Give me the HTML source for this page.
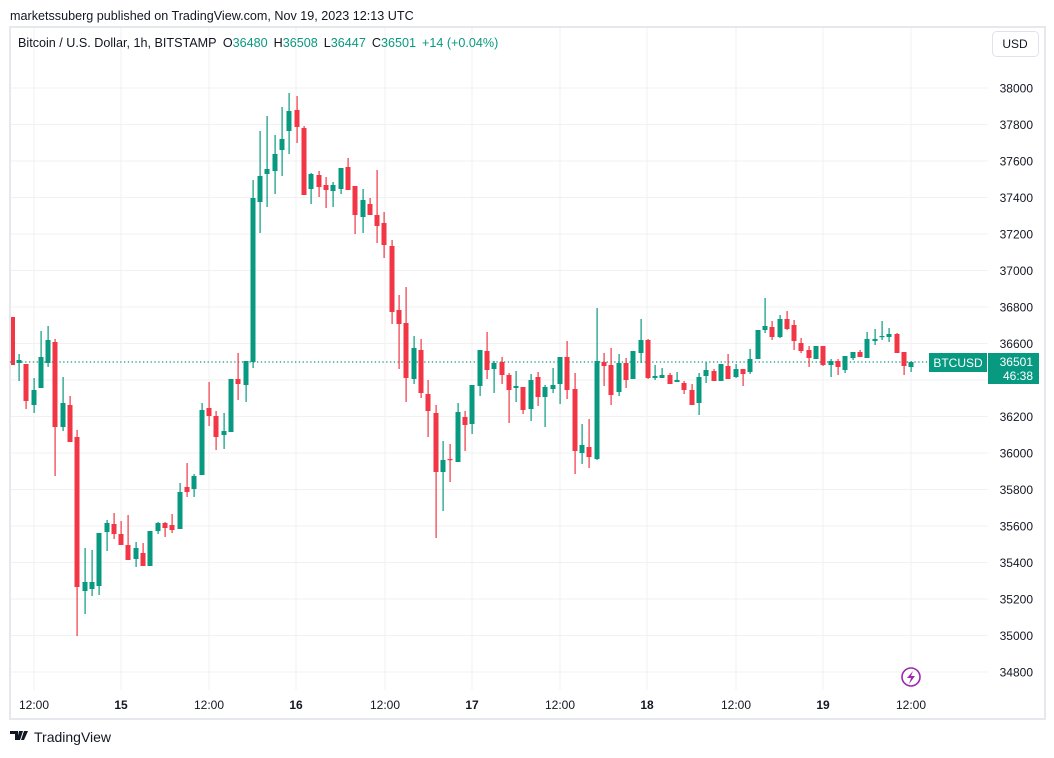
<!DOCTYPE html>
<html><head><meta charset="utf-8"><style>
html,body{margin:0;padding:0;background:#fff;}
body{width:1054px;height:753px;overflow:hidden;position:relative;font-family:"Liberation Sans",sans-serif;color:#131722;}
svg text{font-family:"Liberation Sans",sans-serif;}
</style></head><body>
<svg id="s" width="1054" height="753" viewBox="0 0 1054 753" xmlns="http://www.w3.org/2000/svg">
<rect x="0" y="0" width="1054" height="753" fill="#fff"/>
<text x="10" y="20" font-size="12.6" fill="#131722">marketssuberg published on TradingView.com, Nov 19, 2023 12:13 UTC</text>
<rect x="10" y="27" width="1035" height="692" fill="none" stroke="#e6e8ee" stroke-width="2"/>
<g id="grid" stroke="#f0f1f3" stroke-width="1"></g>
<text x="18" y="47" font-size="12.6" fill="#131722">Bitcoin / U.S. Dollar, 1h, BITSTAMP <tspan dx="3">O</tspan><tspan fill="#089981">36480</tspan><tspan dx="6">H</tspan><tspan fill="#089981">36508</tspan><tspan dx="6">L</tspan><tspan fill="#089981">36447</tspan><tspan dx="6">C</tspan><tspan fill="#089981">36501</tspan><tspan dx="6" fill="#089981">+14 (+0.04%)</tspan></text>
<rect x="992.5" y="31.5" width="46" height="25" rx="4" fill="#fff" stroke="#e0e3eb"/>
<text x="1015" y="48" font-size="12" text-anchor="middle" fill="#131722">USD</text>
<g id="plabels" font-size="12" fill="#131722" text-anchor="end"></g>
<g id="tlabels" font-size="12" fill="#131722" text-anchor="middle"></g>
<line x1="10" y1="362" x2="929" y2="362" stroke="#089981" stroke-width="1.3" stroke-dasharray="1.3,2.5"/>
<g id="candles"></g>
<rect x="929" y="353" width="58" height="19" fill="#089981"/>
<text x="958" y="367" font-size="12" fill="#fff" text-anchor="middle">BTCUSD</text>
<rect x="988" y="353" width="51" height="31" fill="#089981"/>
<text x="1033" y="366" font-size="12" fill="#fff" text-anchor="end">36501</text>
<text x="1033" y="380" font-size="12" fill="#fff" text-anchor="end">46:38</text>
<circle cx="911" cy="677" r="9" fill="#fff" stroke="#9c27b0" stroke-width="1.6"/>
<path d="M913 671 L907 678 L911 678 L909 684 L915 676 L911 676 Z" fill="#9c27b0"/>
<path d="M10 731 h8 v9 h-3 v-6 h-5z M19 731 h4 l-3 9 h-3z M24 731 h4 l-4 9 h-3z" fill="#131722"/>
<text x="34" y="742" font-size="14" fill="#131722">TradingView</text>
</svg>
<script>
var NS="http://www.w3.org/2000/svg";
function el(t,a,p,txt){var e=document.createElementNS(NS,t);for(var k in a)e.setAttribute(k,a[k]);if(txt)e.textContent=txt;document.getElementById(p).appendChild(e);return e;}
for(var i=0;i<=16;i++){var p=38000-200*i;var y=88+i*36.5;
 el('line',{x1:11,y1:y,x2:988,y2:y},'grid');
 if(p!==36400)el('text',{x:1033,y:y+4.5},'plabels',String(p));}
var tx=[34,121,209,296,385,472,560,647,736,823,911];
var tl=['12:00','15','12:00','16','12:00','17','12:00','18','12:00','19','12:00'];
for(var i=0;i<tx.length;i++){el('line',{x1:tx[i],y1:28,x2:tx[i],y2:690},'grid');
 var a={x:tx[i],y:709};if(tl[i].length<3)a['font-weight']='bold';el('text',a,'tlabels',tl[i]);}
var D=[[12,'r',317,365,317,365],[19,'g',360,363,354,381],[26,'r',364,401,364,409],[34,'g',390,405,378,413],[41,'g',357,388,331,388],[48,'g',340,363,326,367],[55,'r',342,427,339,476],[63,'g',403,427,377,431],[70,'r',405,442,396,442],[77,'r',437,587,430,636],[85,'g',582,591,548,614],[92,'g',582,589,550,596],[99,'g',533,586,533,595],[107,'g',523,532,520,551],[114,'r',524,534,513,539],[121,'r',534,545,521,545],[128,'r',545,560,515,560],[136,'g',548,559,542,567],[143,'r',553,566,543,566],[150,'g',531,566,531,566],[158,'g',523,531,522,534],[165,'r',523,528,522,537],[172,'r',525,530,514,533],[180,'g',492,529,483,529],[187,'r',487,492,463,497],[194,'g',476,489,474,497],[202,'g',410,475,403,475],[209,'r',408,416,382,426],[216,'r',416,437,411,450],[224,'g',431,435,413,449],[231,'g',379,432,379,432],[238,'r',379,384,353,400],[246,'g',361,385,361,402],[253,'g',198,362,180,368],[260,'g',176,202,131,233],[267,'g',169,174,116,207],[275,'g',154,171,135,194],[282,'g',139,150,107,176],[289,'g',111,131,93,154],[297,'r',110,127,96,143],[304,'r',128,195,126,195],[311,'g',174,189,173,204],[319,'r',175,187,171,197],[326,'r',185,190,177,208],[333,'g',185,191,182,207],[341,'g',168,189,168,194],[348,'r',167,190,158,190],[355,'r',186,215,186,234],[363,'g',200,217,189,233],[370,'r',204,215,198,215],[377,'r',215,226,170,243],[384,'r',223,245,212,258],[392,'r',246,312,240,324],[399,'r',310,324,295,369],[406,'r',323,378,287,402],[414,'g',348,379,336,384],[421,'r',350,393,339,398],[428,'r',394,411,380,437],[436,'r',413,472,405,538],[443,'g',460,472,441,511],[450,'r',459,460,444,482],[458,'g',412,462,403,462],[465,'r',417,425,411,451],[472,'g',385,424,385,434],[480,'g',350,386,350,396],[487,'r',351,370,332,379],[494,'g',363,369,361,393],[502,'r',362,375,357,384],[509,'r',375,390,373,423],[516,'g',386,388,371,402],[523,'r',387,410,387,414],[531,'g',380,409,374,421],[538,'r',377,397,372,406],[545,'g',387,397,385,427],[553,'g',385,389,368,393],[560,'g',357,384,357,404],[567,'r',357,390,341,399],[575,'r',389,451,373,474],[582,'g',445,453,424,464],[589,'r',447,457,419,468],[597,'g',361,459,308,460],[604,'r',362,366,353,386],[611,'r',365,395,348,405],[619,'g',363,392,354,396],[626,'r',363,380,358,388],[633,'g',351,379,351,379],[641,'g',340,353,319,363],[648,'r',340,378,339,379],[655,'g',376,378,365,380],[662,'g',375,378,368,378],[670,'r',375,384,373,384],[677,'g',380,382,372,382],[684,'r',383,390,381,394],[692,'r',390,405,384,405],[699,'g',377,403,373,415],[706,'g',370,376,362,383],[714,'r',371,381,369,381],[721,'g',364,381,364,381],[728,'r',366,379,354,379],[736,'g',369,377,364,378],[743,'r',369,374,369,386],[750,'g',359,372,349,374],[758,'g',330,359,330,359],[765,'g',326,330,298,333],[772,'r',327,337,321,340],[780,'g',319,337,315,338],[787,'r',319,329,311,330],[794,'r',325,341,320,350],[801,'r',343,351,338,353],[809,'r',350,358,346,367],[816,'g',346,359,346,359],[823,'r',346,365,346,366],[831,'g',361,365,359,377],[838,'r',361,367,359,375],[845,'g',356,370,356,373],[853,'g',352,358,352,360],[860,'r',352,357,350,357],[867,'g',339,358,332,358],[875,'g',339,341,329,345],[882,'g',336,337,321,340],[889,'g',334,337,328,342],[897,'r',334,353,333,353],[904,'r',352,366,352,375],[911,'g',362,367,361,372]];
D.forEach(function(d){var c=d[1]=='g'?'#089981':'#f23645';var x=d[0];
 if(d[4]<d[2]||d[5]>d[3])el('rect',{x:x-0.5,y:d[4],width:1.2,height:d[5]-d[4],fill:c},'candles');
 var bw=x<14?4:5;var bx=x<14?11:x-2.5;
 el('rect',{x:bx,y:d[2],width:bw,height:Math.max(1.2,d[3]-d[2]),fill:c},'candles');});
</script>
</body></html>
